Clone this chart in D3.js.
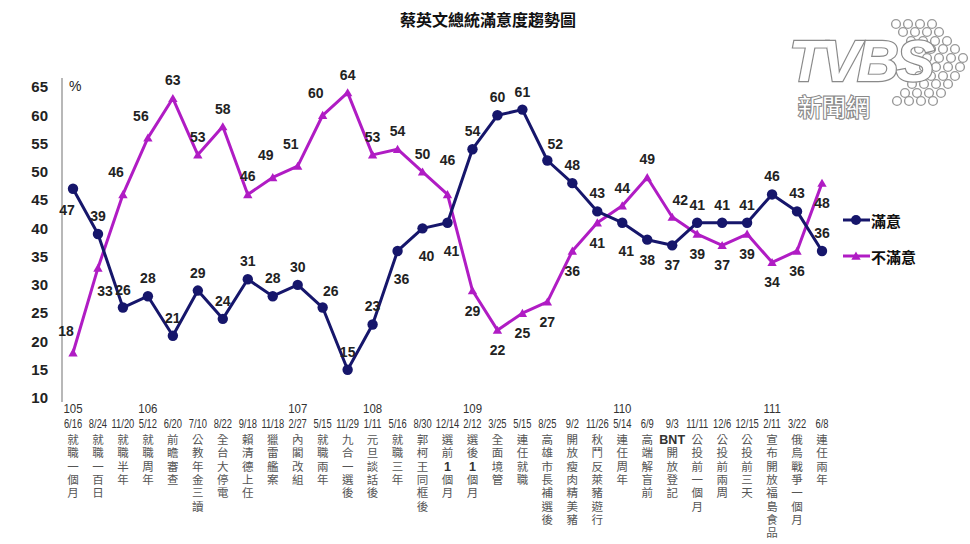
<!DOCTYPE html>
<html><head><meta charset="utf-8">
<script src="https://cdn.jsdelivr.net/npm/d3@7"></script>
<style>
html,body{margin:0;padding:0;background:#fff;}
svg{display:block;}
</style></head>
<body>
<svg id="chart" width="970" height="544"></svg>
<script>
// ---------- data ----------
const dates = ["6/16","8/24","11/20","5/12","6/20","7/10","8/22","9/18","11/18","2/27","5/15","11/29","1/11","5/16","8/30","12/14","2/12","3/25","5/15","8/25","9/2","11/26","5/14","6/9","9/3","11/11","12/6","12/15","2/11","3/22","6/8"];
const years = ["105","","","106","","","","","","107","","","108","","","","109","","","","","","110","","","","","","111","",""];
const events = ["就職一個月","就職一百日","就職半年","就職周年","前瞻審查","公教年金三讀","全台大停電","賴清德上任","獵雷艦案","內閣改組","就職兩年","九合一選後","元旦談話後","就職三年","郭柯王同框後","選前1個月","選後1個月","全面境管","連任就職","高雄市長補選後","開放瘦肉精美豬","秋鬥反萊豬遊行","連任周年","高端解盲前","BNT開放登記","公投前一個月","公投前兩周","公投前三天","宣布開放福島食品","俄烏戰爭一個月","連任兩年"];
const satisfied = [47,39,26,28,21,29,24,31,28,30,26,15,23,36,40,41,54,60,61,52,48,43,41,38,37,41,41,41,46,43,36];
const dissatisfied = [18,33,46,56,63,53,58,46,49,51,60,64,53,54,50,46,29,22,25,27,36,41,44,49,42,39,37,39,34,36,48];
const yTicks = [10,15,20,25,30,35,40,45,50,55,60,65];
const seriesNames = ["滿意","不滿意"];
// label placement codes (layout hints)
const satPlace = ["bl","a","a","a","a","a","a","a","a","a","ar","a","a","bb","bb","bb","a","a","a","ar","a","a","bb","b","b","a","a","a","a","a","a"];
const disPlace = ["al","br","al","al","a","a","a","a","al","al","al","a","a","a","a","aa","b","b","b","b","b","b","a","a","ar","b","b","b","b","b","b"];

// ---------- layout ----------
const svg = d3.select("#chart");
const colors = {sat:"#16166b", dis:"#b01cc4"};
const placeOff = {a:[0,-18], aa:[0,-34], al:[-7,-22], ar:[8,-17], b:[0,20], bb:[4,28], bl:[-6,21], br:[7,23]};

const x = d3.scalePoint().domain(d3.range(dates.length)).range([73, 822]);
const y = d3.scaleLinear().domain([10,65]).range([398, 87]);

// title
svg.append("text").attr("x",488).attr("y",26).attr("text-anchor","middle")
  .attr("font-family","'Noto Sans CJK TC','Noto Sans CJK SC',sans-serif")
  .attr("font-weight","bold").attr("font-size",16).attr("fill","#111")
  .text("蔡英文總統滿意度趨勢圖");

// ---------- logo ----------
const logo = svg.append("g");
const dotRows = [[24,896],[32,903],[41,911],[49,919],[58,927],[67,924],[76,919],[84,912],[93,905],[101,897]];
dotRows.forEach(([yy,xs])=>{
  for(let i=0;i<4;i++){
    logo.append("circle").attr("cx",xs+i*12).attr("cy",yy).attr("r",4.4)
      .attr("fill","#fff").attr("stroke","#9a9a9a").attr("stroke-width",1.4);
  }
});
logo.append("text").attr("x",789).attr("y",81)
  .attr("font-family","'Liberation Sans',Arial,sans-serif").attr("font-weight","bold")
  .attr("font-style","italic").attr("font-size",58).attr("letter-spacing",-3)
  .attr("fill","#fff").attr("stroke","#8a8a8a").attr("stroke-width",2.4)
  .attr("paint-order","stroke").text("TVBS");
logo.append("text").attr("x",798).attr("y",116)
  .attr("font-family","'Liberation Sans','Noto Sans CJK TC',sans-serif").attr("font-size",24)
  .attr("fill","#fff").attr("stroke","#8a8a8a").attr("stroke-width",2.2)
  .attr("paint-order","stroke").text("新聞網");

// ---------- y axis ----------
svg.append("line").attr("x1",62).attr("x2",62).attr("y1",78).attr("y2",402)
  .attr("stroke","#b8b8b8").attr("stroke-width",2);
const yAxis = d3.axisLeft(y).tickValues(yTicks).tickSize(0).tickPadding(0);
const yg = svg.append("g").attr("transform","translate(48,0)").call(yAxis);
yg.select(".domain").remove();
yg.selectAll("text").attr("font-family","'Liberation Sans',Arial,sans-serif")
  .attr("font-weight","bold").attr("font-size",15).attr("fill","#222");
svg.append("text").attr("x",69).attr("y",91).attr("font-family","'Liberation Sans',Arial,sans-serif")
  .attr("font-size",14).attr("fill","#222").text("%");

// ---------- x labels ----------
const xl = svg.append("g");
dates.forEach((d,i)=>{
  const cx = x(i);
  if(years[i]) xl.append("text").attr("transform",`translate(${cx},413) scale(0.88,1)`)
     .attr("text-anchor","middle").attr("font-family","'Liberation Sans',Arial,sans-serif")
     .attr("font-size",13).attr("fill","#333").text(years[i]);
  xl.append("text").attr("transform",`translate(${cx},428) scale(0.72,1)`)
     .attr("text-anchor","middle").attr("font-family","'Liberation Sans',Arial,sans-serif")
     .attr("font-size",13).attr("fill","#333").text(d);
  const tokens = events[i].match(/[A-Za-z0-9]+|./g);
  tokens.forEach((tk,j)=>{
    const ascii = /^[A-Za-z0-9]+$/.test(tk);
    xl.append("text").attr("x",cx).attr("y",444+j*13.3).attr("text-anchor","middle")
      .attr("font-family","'Liberation Sans','Noto Sans CJK TC',sans-serif")
      .attr("font-weight",ascii?"bold":null)
      .attr("font-size",ascii?12.5:11.5).attr("fill",ascii?"#333":"#555")
      .text(tk);
  });
});

// ---------- lines ----------
const line = d3.line().x((d,i)=>x(i)).y(d=>y(d));
svg.append("path").datum(dissatisfied).attr("d",line).attr("fill","none")
  .attr("stroke",colors.dis).attr("stroke-width",3).attr("stroke-linejoin","round");
svg.append("path").datum(satisfied).attr("d",line).attr("fill","none")
  .attr("stroke",colors.sat).attr("stroke-width",3).attr("stroke-linejoin","round");

const tri = d3.symbol().type(d3.symbolTriangle).size(38);
svg.append("g").selectAll("path").data(dissatisfied).join("path")
  .attr("d",tri).attr("transform",(d,i)=>`translate(${x(i)},${y(d)+1})`).attr("fill",colors.dis);
svg.append("g").selectAll("circle").data(satisfied).join("circle")
  .attr("cx",(d,i)=>x(i)).attr("cy",d=>y(d)).attr("r",5.2).attr("fill",colors.sat);

// ---------- value labels ----------
function labels(data, place){
  svg.append("g").selectAll("text").data(data).join("text")
    .attr("x",(d,i)=>x(i)+placeOff[place[i]][0])
    .attr("y",(d,i)=>y(d)+placeOff[place[i]][1])
    .attr("text-anchor","middle").attr("dominant-baseline","central")
    .attr("font-family","'Liberation Sans',Arial,sans-serif").attr("font-weight","bold")
    .attr("font-size",14).attr("fill","#222").text(d=>d);
}
labels(dissatisfied, disPlace);
labels(satisfied, satPlace);

// ---------- legend ----------
const lg = svg.append("g");
[[colors.sat,220,"c"],[colors.dis,256,"t"]].forEach(([c,yy,m],k)=>{
  lg.append("line").attr("x1",843).attr("x2",870).attr("y1",yy).attr("y2",yy)
    .attr("stroke",c).attr("stroke-width",3);
  if(m==="c") lg.append("circle").attr("cx",856).attr("cy",yy).attr("r",5).attr("fill",c);
  else lg.append("path").attr("d",tri).attr("transform",`translate(856,${yy+1})`).attr("fill",c);
  lg.append("text").attr("x",871).attr("y",yy).attr("dominant-baseline","central")
    .attr("font-family","'Noto Sans CJK TC',sans-serif").attr("font-weight","bold")
    .attr("font-size",15).attr("fill","#111").text(seriesNames[k]);
});
</script>
</body></html>
